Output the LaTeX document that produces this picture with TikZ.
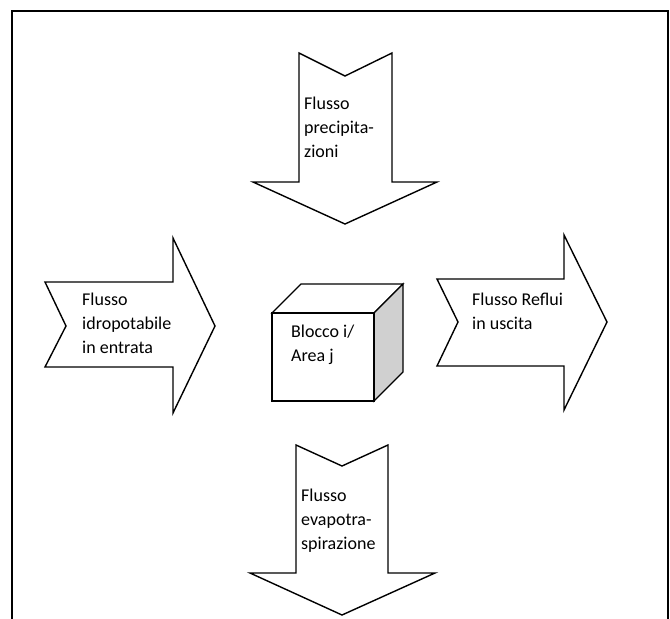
\documentclass[tikz,border=0pt]{standalone}
\usepackage{fontspec}
\setmainfont{Carlito}
\definecolor{sidegray}{RGB}{208,208,208}
\newcommand{\txtstack}[1]{\vtop{\baselineskip=24pt \lineskiplimit=-20pt #1}}
\begin{document}
\begin{tikzpicture}[x=1pt,y=-1pt,
  shp/.style={draw=black,line width=1.4pt,line join=miter,fill=white},
  lbl/.style={anchor=base west,inner sep=0pt,font=\fontsize{18}{24}\selectfont}]
\useasboundingbox (0,0) rectangle (670,619);
\draw[line width=2pt] (12,640) -- (12,11) -- (668,11) -- (668,640);
% top arrow
\draw[shp] (299,53) -- (345,76) -- (392,53) -- (392,182) -- (437,182) -- (345,224) -- (253,182) -- (299,182) -- cycle;
% bottom arrow
\draw[shp] (296,445) -- (342,466) -- (388,445) -- (388,573) -- (435,573) -- (342,615) -- (250,573) -- (296,573) -- cycle;
% left arrow
\draw[shp] (45,282) -- (173,282) -- (173,238) -- (215,326) -- (173,413) -- (173,367) -- (45,367) -- (66,326) -- cycle;
% right arrow
\draw[shp] (437,279) -- (564,279) -- (564,235) -- (607,322) -- (564,410) -- (564,366) -- (437,366) -- (458,322) -- cycle;
% cube
\draw[shp] (272,313) -- (301,284) -- (403,284) -- (374,313) -- cycle;
\draw[shp,fill=sidegray] (374,313) -- (403,284) -- (403,372) -- (374,401) -- cycle;
\draw[shp] (272,313) rectangle (374,401);
% labels
\node[lbl] (tp) at (304,109) {\txtstack{\hbox{Flusso}\hbox{precipita-}\hbox{zioni}}};
\node[lbl] (lf) at (82,305) {\txtstack{\hbox{Flusso}\hbox{idropotabile}\hbox{in entrata}}};
\node[lbl] (rt) at (472,305) {\txtstack{\hbox{Flusso Reflui}\hbox{in uscita}}};
\node[lbl] (cb) at (291,337) {\txtstack{\hbox{Blocco i/}\hbox{Area j}}};
\node[lbl] (bt) at (301,501) {\txtstack{\hbox{Flusso}\hbox{evapotra-}\hbox{spirazione}}};
\end{tikzpicture}
\end{document}
